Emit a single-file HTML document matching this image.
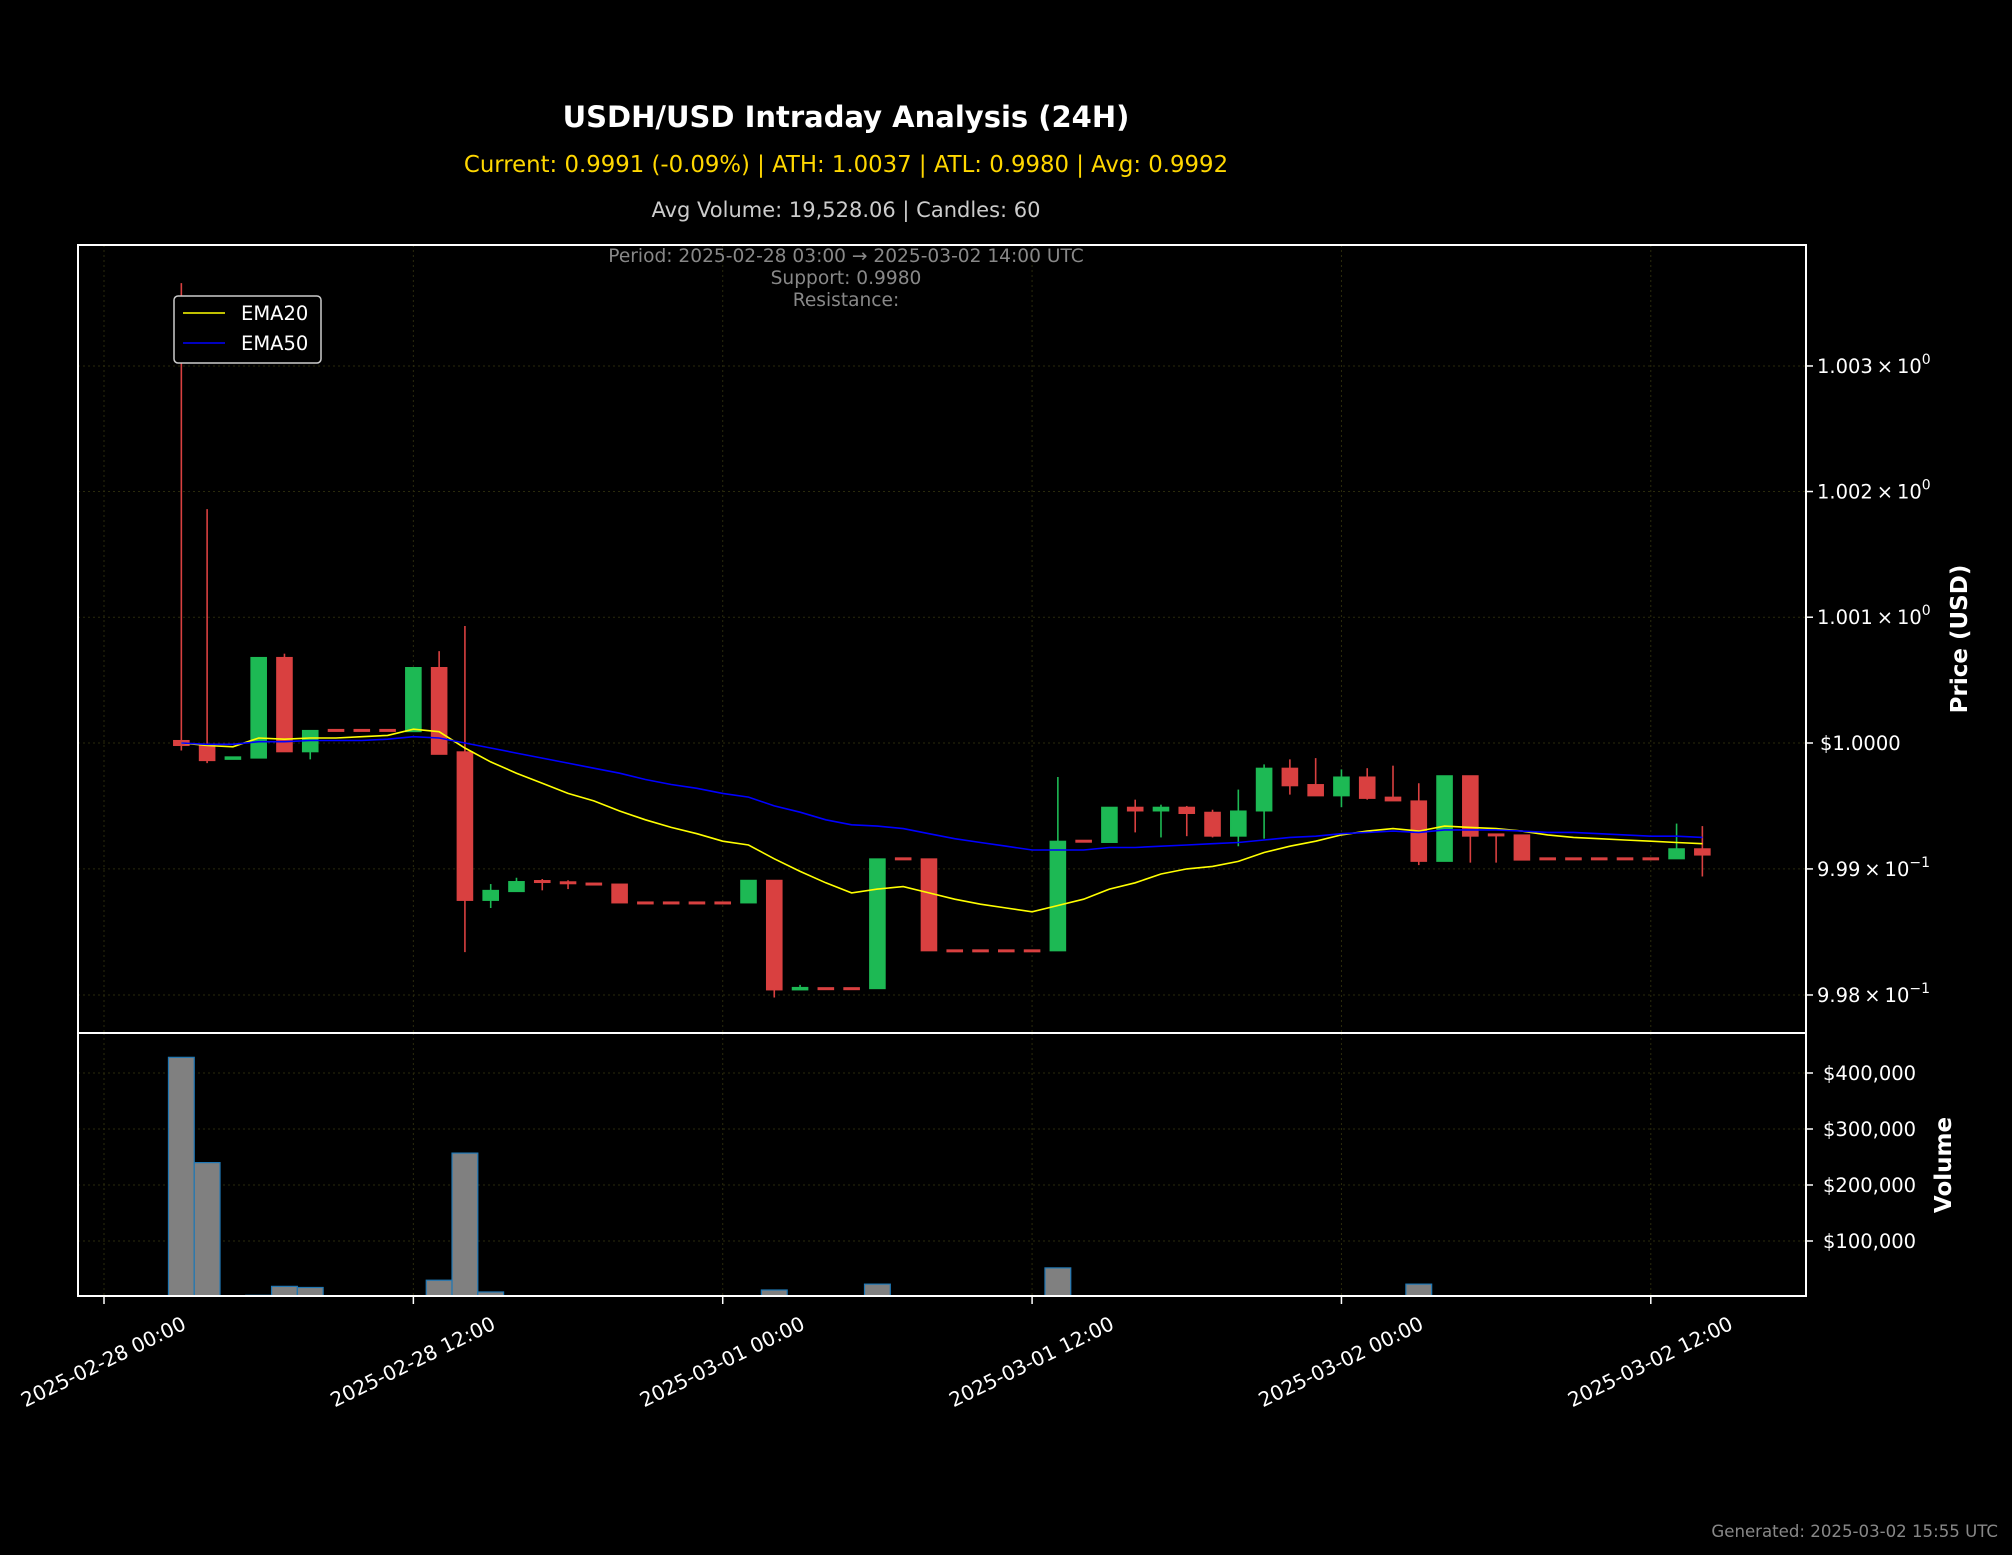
<!DOCTYPE html>
<html><head><meta charset="utf-8"><title>USDH/USD Intraday Analysis</title>
<style>
html,body{margin:0;padding:0;background:#000;}
svg{display:block;font-family:"DejaVu Sans","Liberation Sans",sans-serif;}
</style></head>
<body>
<svg id="chart" width="2012" height="1555" viewBox="0 0 2012 1555" xmlns="http://www.w3.org/2000/svg">
<rect x="0" y="0" width="2012" height="1555" fill="#000"/>
<text x="846" y="127" text-anchor="middle" font-size="29" font-weight="bold" fill="#fff">USDH/USD Intraday Analysis (24H)</text>
<text x="846" y="172" text-anchor="middle" font-size="22.8" fill="#FFD700">Current: 0.9991 (-0.09%) | ATH: 1.0037 | ATL: 0.9980 | Avg: 0.9992</text>
<text x="846" y="217" text-anchor="middle" font-size="21" fill="#cccccc">Avg Volume: 19,528.06 | Candles: 60</text>
<g id="price-grid"></g>
<g id="vol-grid"></g>
<g id="vol-bars"></g>
<g id="candles"></g>
<g id="emas"></g>
<text x="846" y="262" text-anchor="middle" font-size="18.6" fill="#888">Period: 2025-02-28 03:00 → 2025-03-02 14:00 UTC</text>
<text x="846" y="284" text-anchor="middle" font-size="18.6" fill="#888">Support: 0.9980</text>
<text x="846" y="306" text-anchor="middle" font-size="18.6" fill="#888">Resistance:</text>
<rect x="78" y="245" width="1728" height="788" fill="none" stroke="#fff" stroke-width="2"/>
<rect x="78" y="1033" width="1728" height="263" fill="none" stroke="#fff" stroke-width="2"/>
<g>
<rect x="174" y="296" width="147" height="67" rx="4" fill="#000" stroke="#ccc" stroke-width="1.5"/>
<line x1="183" y1="313" x2="225" y2="313" stroke="#ffff00" stroke-width="1.5"/>
<text x="241" y="320" font-size="19.5" fill="#fff">EMA20</text>
<line x1="183" y1="343" x2="225" y2="343" stroke="#0000ff" stroke-width="1.5"/>
<text x="241" y="350" font-size="19.5" fill="#fff">EMA50</text>
</g>
<g id="yticks"></g>
<g id="vticks"></g>
<g id="xticks"></g>
<text transform="translate(1967,639) rotate(-90)" text-anchor="middle" font-size="23" font-weight="bold" fill="#fff">Price (USD)</text>
<text transform="translate(1951,1165) rotate(-90)" text-anchor="middle" font-size="23" font-weight="bold" fill="#fff">Volume</text>
<text x="1998" y="1537" text-anchor="end" font-size="16.6" fill="#888">Generated: 2025-03-02 15:55 UTC</text>
</svg>
<script>
const opens  = [1.00002,0.99998,0.99987,0.99988,1.00068,0.99993,1.00010,1.00010,1.00010,1.00009,1.00060,0.99993,0.99875,0.99882,0.99890,0.99889,0.99888,0.99888,0.99873,0.99873,0.99873,0.99873,0.99873,0.99891,0.99804,0.99805,0.99805,0.99805,0.99908,0.99908,0.99835,0.99835,0.99835,0.99835,0.99835,0.99922,0.99921,0.99949,0.99946,0.99949,0.99945,0.99926,0.99946,0.99980,0.99967,0.99958,0.99973,0.99957,0.99954,0.99906,0.99974,0.99927,0.99927,0.99908,0.99908,0.99908,0.99908,0.99908,0.99908,0.99916];
const highs  = [1.00366,1.00186,0.99989,1.00068,1.00071,1.00010,1.00010,1.00010,1.00010,1.00060,1.00073,1.00093,0.99888,0.99893,0.99892,0.99891,0.99888,0.99888,0.99873,0.99873,0.99873,0.99873,0.99891,0.99891,0.99808,0.99805,0.99805,0.99908,0.99908,0.99908,0.99835,0.99835,0.99835,0.99835,0.99973,0.99922,0.99949,0.99955,0.99951,0.99950,0.99947,0.99963,0.99983,0.99987,0.99988,0.99979,0.99980,0.99982,0.99968,0.99974,0.99974,0.99927,0.99927,0.99908,0.99908,0.99908,0.99908,0.99908,0.99936,0.99934];
const lows   = [0.99994,0.99984,0.99987,0.99988,0.99993,0.99987,1.00010,1.00010,1.00010,1.00009,0.99991,0.99834,0.99869,0.99882,0.99883,0.99884,0.99888,0.99873,0.99873,0.99873,0.99873,0.99873,0.99873,0.99798,0.99804,0.99805,0.99805,0.99805,0.99908,0.99835,0.99835,0.99835,0.99835,0.99835,0.99835,0.99922,0.99921,0.99929,0.99925,0.99926,0.99925,0.99918,0.99924,0.99959,0.99958,0.99949,0.99955,0.99954,0.99903,0.99906,0.99905,0.99905,0.99907,0.99908,0.99908,0.99908,0.99908,0.99908,0.99908,0.99894];
const closes = [0.99998,0.99986,0.99989,1.00068,0.99993,1.00010,1.00010,1.00010,1.00010,1.00060,0.99991,0.99875,0.99883,0.99890,0.99889,0.99888,0.99888,0.99873,0.99873,0.99873,0.99873,0.99873,0.99891,0.99804,0.99806,0.99805,0.99805,0.99908,0.99908,0.99835,0.99835,0.99835,0.99835,0.99835,0.99922,0.99922,0.99949,0.99946,0.99949,0.99944,0.99926,0.99946,0.99980,0.99966,0.99958,0.99973,0.99956,0.99954,0.99906,0.99974,0.99926,0.99927,0.99907,0.99908,0.99908,0.99908,0.99908,0.99908,0.99916,0.99911];
const ema20 = [1.00000,0.99998,0.99997,1.00004,1.00003,1.00004,1.00004,1.00005,1.00006,1.00011,1.00009,0.99996,0.99985,0.99976,0.99968,0.99960,0.99954,0.99946,0.99939,0.99933,0.99928,0.99922,0.99919,0.99908,0.99898,0.99889,0.99881,0.99884,0.99886,0.99881,0.99876,0.99872,0.99869,0.99866,0.99871,0.99876,0.99884,0.99889,0.99896,0.99900,0.99902,0.99906,0.99913,0.99918,0.99922,0.99927,0.99930,0.99932,0.99930,0.99934,0.99933,0.99932,0.99930,0.99927,0.99925,0.99924,0.99923,0.99922,0.99921,0.99920];
const ema50 = [1.00000,0.99999,0.99999,1.00001,1.00001,1.00002,1.00002,1.00002,1.00003,1.00005,1.00004,1.00000,0.99996,0.99992,0.99988,0.99984,0.99980,0.99976,0.99971,0.99967,0.99964,0.99960,0.99957,0.99950,0.99945,0.99939,0.99935,0.99934,0.99932,0.99928,0.99924,0.99921,0.99918,0.99915,0.99915,0.99915,0.99917,0.99917,0.99918,0.99919,0.99920,0.99921,0.99923,0.99925,0.99926,0.99928,0.99929,0.99930,0.99929,0.99931,0.99931,0.99931,0.99930,0.99929,0.99929,0.99928,0.99927,0.99926,0.99926,0.99925];
const volumes = [428000,240000,1000,3000,19000,17000,300,1500,300,300,30000,257000,9000,500,300,300,300,300,300,300,300,300,2500,12500,300,300,300,23000,500,300,300,300,300,300,52000,300,300,300,300,300,300,300,1500,300,300,300,300,300,23000,300,300,300,300,300,300,300,300,300,300,300];
const startHour = 3;
const priceTicks = [1.003,1.002,1.001,1.000,0.999,0.998];
const priceTickMantissa = ["1.003","1.002","1.001","$1.0000","9.99","9.98"];
const priceTickExp = ["0","0","0","","\u22121","\u22121"];
const volTicks = [100000,200000,300000,400000];
const volTickLabels = ["$100,000","$200,000","$300,000","$400,000"];
const timeTickHours = [0,12,24,36,48,60];
const timeTickLabels = ["2025-02-28 00:00","2025-02-28 12:00","2025-03-01 00:00","2025-03-01 12:00","2025-03-02 00:00","2025-03-02 12:00"];

const NS = "http://www.w3.org/2000/svg";
const PL=78, PR=1806, PT=245, PB=1033, VB=1296;
function xScale(h){ return 104 + h*25.78; }
function yPrice(p){ return 743 - Math.log(p)/Math.log(1.001)*125.8; }
function yVol(v){ return 1297 - v*0.00056; }
function mk(tag, attrs, parent){ const e=document.createElementNS(NS,tag); for(const k in attrs) e.setAttribute(k,attrs[k]); parent.appendChild(e); return e; }

const pg=document.getElementById('price-grid'), vg=document.getElementById('vol-grid');
const yt=document.getElementById('yticks'), vt=document.getElementById('vticks'), xt=document.getElementById('xticks');
const gridStyle={stroke:"#2a2a0c","stroke-width":"1","stroke-dasharray":"2,3"};

timeTickHours.forEach((h,i)=>{
  const x=xScale(h);
  let g1=mk('line',Object.assign({x1:x,y1:PT,x2:x,y2:PB},gridStyle),pg);
  
  
  let g2=mk('line',Object.assign({x1:x,y1:PB,x2:x,y2:VB},gridStyle),vg);
  
  
  let tk=mk('line',{x1:x,y1:VB,x2:x,y2:VB+8,stroke:"#fff","stroke-width":"1.5"},xt);
  
  
  let t=mk('text',{transform:`translate(${x},${1363}) rotate(-26)`,"text-anchor":"middle","font-size":"20","fill":"#fff","dominant-baseline":"middle"},xt);
  t.textContent=timeTickLabels[i];
  
  
});

priceTicks.forEach((p,i)=>{
  const y=yPrice(p);
  let g=mk('line',Object.assign({x1:PL,y1:y,x2:PR,y2:y},gridStyle),pg);
  
  
  let tk=mk('line',{x1:PR,y1:y,x2:PR+7,y2:y,stroke:"#fff","stroke-width":"1.5"},yt);
  
  
  let t=mk('text',{x:priceTickExp[i]===""?1820:1817,y:y+7,"font-size":"19.5",fill:"#fff"},yt);
  
  
  if(priceTickExp[i]===""){ t.textContent=priceTickMantissa[i]; }
  else{
    t.textContent=priceTickMantissa[i]+"\u2009\u00d7\u200910";
    const s=document.createElementNS(NS,'tspan'); s.setAttribute('dy','-9'); s.setAttribute('font-size','14'); s.textContent=priceTickExp[i]; t.appendChild(s);
  }
});

volTicks.forEach((v,i)=>{
  const y=yVol(v);
  let g=mk('line',Object.assign({x1:PL,y1:y,x2:PR,y2:y},gridStyle),vg);
  
  
  let tk=mk('line',{x1:PR,y1:y,x2:PR+7,y2:y,stroke:"#fff","stroke-width":"1.5"},vt);
  
  
  let t=mk('text',{x:1823,y:y+7,"font-size":"19.5",fill:"#fff"},vt);
  t.textContent=volTickLabels[i];
  
  
});

const vb=document.getElementById('vol-bars');
volumes.forEach((v,i)=>{
  const x=xScale(startHour+i), y=Math.max(yVol(v),PB);
  let r=mk('rect',{x:x-12.9,y:y,width:25.8,height:Math.max(VB-y,0),fill:"#808080",stroke:"#1f77b4","stroke-width":"1.2"},vb);
  
  
});

const cg=document.getElementById('candles');
opens.forEach((o,i)=>{
  const c=closes[i], x=xScale(startHour+i);
  const up=c>o, col=up?"#1db954":"#d94040";
  let w=mk('line',{x1:x,y1:yPrice(highs[i]),x2:x,y2:yPrice(lows[i]),stroke:col,"stroke-width":"1.6"},cg);
  
  
  const yt0=yPrice(Math.max(o,c)), yb0=yPrice(Math.min(o,c));
  const h=Math.max(yb0-yt0,2);
  let b=mk('rect',{x:x-7.8,y:(yb0-yt0<2)?(yt0-1):yt0,width:15.6,height:h,fill:col,stroke:col,"stroke-width":"1"},cg);
  
  
});

const eg=document.getElementById('emas');
function linePath(arr){ return arr.map((p,i)=>(i?'L':'M')+xScale(startHour+i).toFixed(1)+','+yPrice(p).toFixed(1)).join(''); }
let l20=mk('path',{d:linePath(ema20),fill:"none",stroke:"#ffff00","stroke-width":"1.6"},eg);


let l50=mk('path',{d:linePath(ema50),fill:"none",stroke:"#0000ff","stroke-width":"1.6"},eg);


</script>
</body></html>
